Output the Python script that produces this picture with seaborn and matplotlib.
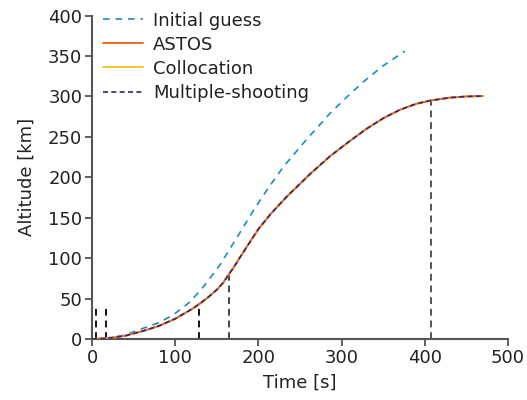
import matplotlib
matplotlib.use("Agg")
import matplotlib.pyplot as plt
import seaborn as sns
import pandas as pd

# ---- data ----
guess_time = [0, 20, 40, 58, 80, 98, 118, 135, 154, 178, 194, 212, 230, 258, 286, 306, 326, 350, 376]
guess_alt = [0, 1.5, 5, 12, 20, 30, 46, 66, 92, 132, 159, 187, 213, 247, 279, 299, 318, 338, 356]

astos_time = [0, 20, 40, 60, 80, 100, 110, 120, 130, 140, 150, 158, 165, 170, 176, 186, 200, 215,
              234, 250, 262, 286, 310, 330, 350, 370, 390, 407, 430, 450, 470]
astos_alt = [0, 1, 4, 9.5, 16, 25, 31, 37, 44, 52, 61, 70, 81, 88, 98, 114, 136, 155,
             176, 192, 204, 226, 245, 260, 273, 283.5, 291, 295, 298.5, 300, 300.5]

colloc_time = list(astos_time)
colloc_alt = list(astos_alt)

ms_time = list(astos_time)
ms_alt = list(astos_alt)

# shooting node markers (vertical dashed lines)
node_time = [5.2, 17.2, 129, 165, 407]
node_top = [40, 40, 44, 81, 295]
node_colors = ["#111111", "#111111", "#111111", "#444444", "#555555"]

labels = ["Initial guess", "ASTOS", "Collocation", "Multiple-shooting"]

sns.set_style("ticks")
plt.rcParams["font.family"] = ["DejaVu Sans"]

fig = plt.figure(figsize=(5.27, 4.0), dpi=100)
ax = fig.add_axes([0.1746, 0.1525, 0.7894, 0.8085])

df_guess = pd.DataFrame({"t": guess_time, "h": guess_alt})
df_astos = pd.DataFrame({"t": astos_time, "h": astos_alt})
df_col = pd.DataFrame({"t": colloc_time, "h": colloc_alt})
df_ms = pd.DataFrame({"t": ms_time, "h": ms_alt})

for tt, top, c in zip(node_time, node_top, node_colors):
    ax.vlines(tt, 0, top, colors=c, linestyles=(0, (3.5, 2.5)), linewidth=1.4, zorder=1)

sns.lineplot(data=df_guess, x="t", y="h", ax=ax, color="#1b8cc4", linewidth=1.2,
             linestyle=(0, (4, 3.5)), label=labels[0], zorder=3)
sns.lineplot(data=df_astos, x="t", y="h", ax=ax, color="#f26a21", linewidth=1.4,
             label=labels[1], zorder=4)
sns.lineplot(data=df_col, x="t", y="h", ax=ax, color="#f7c62f", linewidth=1.4,
             label=labels[2], zorder=3.5)
sns.lineplot(data=df_ms, x="t", y="h", ax=ax, color="#2a2a7c", linewidth=1.2,
             linestyle=(0, (3, 2)), label=labels[3], zorder=5)

ax.set_xlim(0, 500)
ax.set_ylim(0, 400)
ax.set_xticks([0, 100, 200, 300, 400, 500])
ax.set_yticks([0, 50, 100, 150, 200, 250, 300, 350, 400])
ax.set_xlabel("Time [s]", fontsize=13, color="#222222", labelpad=5)
ax.set_ylabel("Altitude [km]", fontsize=13, color="#222222", labelpad=9)
ax.tick_params(axis="both", labelsize=13, colors="#444444", labelcolor="#222222",
               length=5, width=1.2, direction="out", pad=2)

for s in ["top", "right"]:
    ax.spines[s].set_visible(False)
for s in ["left", "bottom"]:
    ax.spines[s].set_color("#555555")
    ax.spines[s].set_linewidth(1.5)

leg = ax.legend(loc="upper left", bbox_to_anchor=(0.01, 1.035), frameon=False,
                fontsize=13, handlelength=2.2, handletextpad=0.55,
                labelspacing=0.34, borderaxespad=0.0)
for t in leg.get_texts():
    t.set_color("#222222")

fig.savefig("out.png", dpi=100)
